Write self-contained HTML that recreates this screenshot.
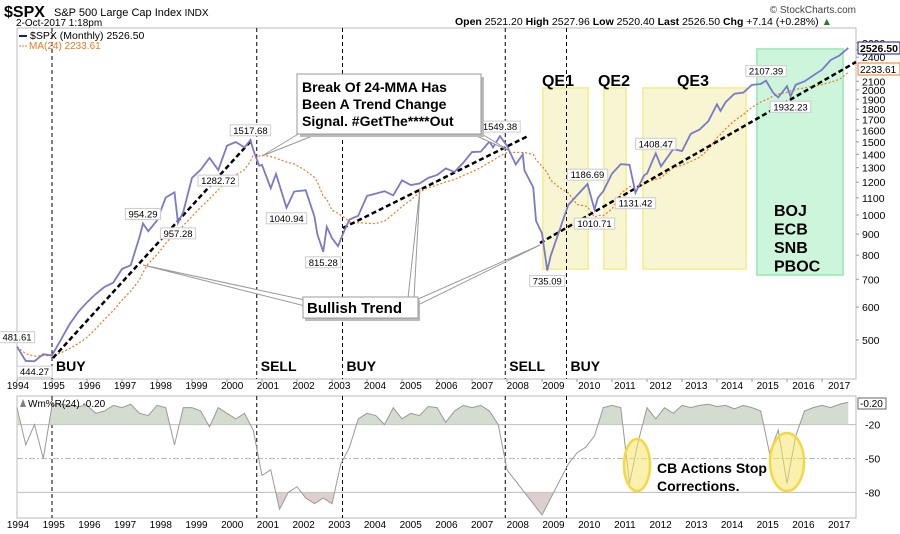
<!DOCTYPE html>
<html><head><meta charset="utf-8"><style>
body{margin:0;background:#fff;width:900px;height:534px;overflow:hidden}
svg{display:block;font-family:"Liberation Sans",sans-serif}
.b{font-weight:bold}
</style></head><body>
<svg id="c" width="900" height="534" xmlns="http://www.w3.org/2000/svg">
<text x="4" y="17" font-size="16" class="b">$SPX</text>
<text x="54" y="16" font-size="11">S&amp;P 500 Large Cap Index <tspan font-size="10">INDX</tspan></text>
<text x="16" y="26" font-size="10">2-Oct-2017 1:18pm</text>
<text x="856" y="13" font-size="10" text-anchor="end" fill="#444">© StockCharts.com</text>
<text x="455" y="25" font-size="10.5"><tspan class="b">Open</tspan> 2521.20 <tspan class="b">High</tspan> 2527.96 <tspan class="b">Low</tspan> 2520.40 <tspan class="b">Last</tspan> 2526.50 <tspan class="b">Chg</tspan> +7.14 (+0.28%) <tspan fill="#2a7a2a">▲</tspan></text>
<g id="g"></g>
</svg>
<script>
const dates=[1994.0,1994.25,1994.5,1994.75,1995.0,1995.25,1995.5,1995.75,1996.0,1996.25,1996.5,1996.75,1997.0,1997.25,1997.5,1997.6,1997.75,1998.0,1998.25,1998.5,1998.6,1998.75,1999.0,1999.25,1999.5,1999.75,2000.0,2000.25,2000.5,2000.67,2000.75,2000.92,2001.0,2001.25,2001.4,2001.7,2001.92,2002.25,2002.5,2002.58,2002.75,2002.85,2003.0,2003.17,2003.35,2003.5,2003.75,2004.0,2004.25,2004.5,2004.75,2005.0,2005.25,2005.5,2005.75,2006.0,2006.25,2006.5,2006.75,2007.0,2007.25,2007.5,2007.6,2007.8,2008.0,2008.25,2008.45,2008.5,2008.75,2008.83,2009.0,2009.15,2009.25,2009.5,2009.75,2010.0,2010.3,2010.5,2010.6,2010.75,2011.0,2011.25,2011.5,2011.67,2011.92,2012.0,2012.25,2012.4,2012.75,2013.0,2013.25,2013.5,2013.75,2014.0,2014.1,2014.25,2014.5,2014.75,2015.0,2015.25,2015.4,2015.6,2015.75,2016.0,2016.1,2016.25,2016.5,2016.75,2017.0,2017.25,2017.5,2017.75];
const closes=[481.6,445,444.3,462,459,500,545,584,616,645,671,687,741,757,885,954,914,970,1102,1134,957,1017,1229,1286,1373,1283,1469,1499,1455,1517,1436,1315,1320,1160,1256,1041,1139,1147,990,900,815,936,880,841,916,975,996,1112,1126,1141,1115,1212,1181,1191,1229,1248,1295,1270,1336,1418,1421,1503,1455,1549,1468,1323,1400,1280,1166,968,903,735,798,919,1057,1115,1187,1031,1101,1141,1258,1326,1321,1131,1247,1258,1408,1310,1441,1426,1569,1606,1682,1848,1782,1872,1960,1972,2059,2068,2107,1972,1920,2044,1932,2060,2099,2168,2239,2363,2423,2526];
const wrDates=[];for(let i=0;i<96;i++)wrDates.push(1994+i*0.25);
const wrValues=[-5,-38,-20,-50,-3,-2,-3,-4,-3,-10,-8,-3,-5,-2,-10,-12,-3,-5,-38,-5,-5,-8,-22,-5,-10,-15,-10,-25,-65,-60,-95,-80,-75,-85,-90,-85,-90,-55,-40,-15,-10,-12,-20,-5,-15,-10,-12,-4,-5,-18,-8,-3,-5,-3,-8,-20,-60,-70,-80,-90,-100,-85,-70,-55,-45,-40,-30,-5,-3,-5,-72,-35,-5,-15,-5,-10,-3,-5,-3,-2,-4,-3,-6,-3,-5,-8,-45,-25,-72,-30,-8,-5,-3,-5,-2,-0.2];
const priceTicks=[500,600,700,800,900,1000,1100,1200,1300,1400,1500,1600,1700,1800,1900,2000,2100,2400,2500,2600];
const yearLabels=['1994','1995','1996','1997','1998','1999','2000','2001','2002','2003','2004','2005','2006','2007','2008','2009','2010','2011','2012','2013','2014','2015','2016','2017'];
const wrTicks=[-20,-50,-80];
const tagLabels=[[1994.0,481.61,1],[1994.5,444.27,0],[1997.6,954.29,1],[1998.6,957.28,0],[1999.75,1282.72,0],[2000.67,1517.68,1],[2001.7,1040.94,0],[2002.75,815.28,0],[2007.8,1549.38,1],[2009.15,735.09,0],[2010.3,1186.69,1],[2010.5,1010.71,0],[2011.67,1131.42,0],[2012.25,1408.47,1],[2015.4,2107.39,1],[2016.1,1932.23,0]];
const signalDates=[1995.0,2000.85,2003.3,2007.95,2009.7];
const signalText=['BUY','SELL','BUY','SELL','BUY'];

const X=d=>17+35*(d-1994);
const Y=v=>215-415*Math.log10(v/1000);
const W=r=>402+(-r)*1.13;
const NS='http://www.w3.org/2000/svg',g=document.getElementById('g');
function el(t,a,txt){const e=document.createElementNS(NS,t);for(const k in a)e.setAttribute(k,a[k]);if(txt!=null)e.textContent=txt;g.appendChild(e);return e;}

let e=el('rect',{x:17,y:28,width:839,height:351,fill:'none',stroke:'#bbb'});


e=el('rect',{x:17,y:396,width:839,height:122,fill:'none',stroke:'#bbb'});



[[543,588,'QE1',558],[604,626,'QE2',614],[643,746,'QE3',693]].forEach(q=>{
 e=el('rect',{x:q[0],y:88,width:q[1]-q[0],height:181,fill:'#f7f5d2',stroke:'#f5f0a0','stroke-width':2});
 
 
 e=el('text',{x:q[3],y:86,'font-size':16,'font-weight':'bold','text-anchor':'middle'},q[2]);
 
 
});
e=el('rect',{x:757,y:49,width:86,height:226,fill:'#cdf5dc',stroke:'#a6eebf','stroke-width':2});


['BOJ','ECB','SNB','PBOC'].forEach((t,i)=>{
 e=el('text',{x:774,y:216+i*18.5,'font-size':16,'font-weight':'bold'},t);
 
 
});

priceTicks.forEach(v=>{
 e=el('text',{x:862,y:Y(v)+4,'font-size':10.5},String(v));
 
 
 el('line',{x1:856,x2:859,y1:Y(v),y2:Y(v),stroke:'#999'});
});
yearLabels.forEach((t,i)=>{
 [389,528].forEach(yy=>{
  e=el('text',{x:18+35.7*i,y:yy,'font-size':10,'text-anchor':'middle'},t);
  
  
 });
 el('line',{x1:X(1994+i),x2:X(1994+i),y1:379,y2:382,stroke:'#999'});
});

signalDates.forEach((d,i)=>{
 e=el('line',{x1:X(d),x2:X(d),y1:28,y2:379,stroke:'#000','stroke-dasharray':'4,3'});
 
 
 el('line',{x1:X(d),x2:X(d),y1:396,y2:518,stroke:'#000','stroke-dasharray':'4,3'});
 e=el('text',{x:X(d)+4,y:371,'font-size':14,'font-weight':'bold'},signalText[i]);
 
 
});

const ma=closes.map((c,i)=>{let s=0,n=0;for(let j=0;j<=i;j++)if(dates[j]>dates[i]-2){s+=closes[j];n++;}return s/n;});
e=el('polyline',{points:dates.map((d,i)=>X(d)+','+Y(ma[i])).join(' '),fill:'none',stroke:'#f07820','stroke-width':1.2,'stroke-dasharray':'2,2'});



[[53,358,250,142],[343,228,528,136],[540,243,856,62]].forEach(t=>{
 e=el('line',{x1:t[0],y1:t[1],x2:t[2],y2:t[3],stroke:'#000','stroke-width':2.5,'stroke-dasharray':'5,3'});
 
 
});

e=el('polyline',{points:dates.map((d,i)=>X(d)+','+Y(closes[i])).join(' '),fill:'none',stroke:'#7a7ac8','stroke-width':1.8});



tagLabels.forEach(t=>{
 const px=X(t[0]),py=Y(t[1]),txt=t[1].toFixed(2),w=txt.length*5.2+4;
 const ty=t[2]?py-15:py+5;
 const r=el('rect',{x:px-w/2,y:ty,width:w,height:11,fill:'#fff',stroke:'#ccc'});
 
 
 el('text',{x:px,y:ty+9,'font-size':9.5,'text-anchor':'middle'},txt);
});

e=el('polygon',{points:'300,133 262,156 320,133',fill:'#fff',stroke:'#999'});


e=el('polygon',{points:'470,133 510,151 480,133',fill:'#fff',stroke:'#999'});


el('rect',{x:300,y:77,width:184,height:60,fill:'#bbb'});
e=el('rect',{x:297,y:74,width:184,height:60,fill:'#fff',stroke:'#999'});


['Break Of 24-MMA Has','Been A Trend Change','Signal. #GetThe****Out'].forEach((t,i)=>{
 e=el('text',{x:302,y:92+i*17,'font-size':14,'font-weight':'bold'},t);
 
 
});
[['305,300 143,265 305,306'],['408,298 420,188 414,298'],['416,300 540,245 416,306']].forEach(p=>{
 e=el('polygon',{points:p[0],fill:'#fff',stroke:'#999'});
 
 
});
el('rect',{x:305,y:300,width:115,height:21,fill:'#bbb'});
e=el('rect',{x:303,y:297,width:115,height:21,fill:'#fff',stroke:'#999'});


e=el('text',{x:307,y:313,'font-size':15,'font-weight':'bold'},'Bullish Trend');



el('line',{x1:19,x2:27,y1:36,y2:36,stroke:'#1a1a80','stroke-width':2});
e=el('text',{x:30,y:39,'font-size':10.5},'$SPX (Monthly) 2526.50');


el('line',{x1:19,x2:27,y1:46,y2:46,stroke:'#f07820','stroke-dasharray':'2,1'});
e=el('text',{x:29,y:49,'font-size':10,fill:'#f07820'},'MA(24) 2233.61');



e=el('rect',{x:858,y:42,width:42,height:12,fill:'#fff',stroke:'#1a1a80'});


el('text',{x:860,y:52,'font-size':10.5,'font-weight':'bold'},'2526.50');
e=el('rect',{x:858,y:63,width:42,height:12,fill:'#fff',stroke:'#f07820'});


el('text',{x:860,y:73,'font-size':10},'2233.61');

const yb=W(-20),yr=W(-80);
el('line',{x1:17,x2:856,y1:yb,y2:yb,stroke:'#bbb'});
el('line',{x1:17,x2:856,y1:yr,y2:yr,stroke:'#bbb'});
el('line',{x1:17,x2:856,y1:W(-50),y2:W(-50),stroke:'#bbb','stroke-dasharray':'6,2,2,2'});
const defs=el('defs',{});
const c1=document.createElementNS(NS,'clipPath');c1.id='top';c1.innerHTML='<rect x="0" y="0" width="900" height="'+yb+'"/>';defs.appendChild(c1);
const c2=document.createElementNS(NS,'clipPath');c2.id='bot';c2.innerHTML='<rect x="0" y="'+yr+'" width="900" height="100"/>';defs.appendChild(c2);
const pts=wrDates.map((d,i)=>X(d)+','+W(wrValues[i])).join(' ');
const x0=X(wrDates[0]),x1=X(wrDates[wrDates.length-1]);
e=el('polygon',{points:x0+','+yb+' '+pts+' '+x1+','+yb,fill:'#d3dccf','clip-path':'url(#top)'});


e=el('polygon',{points:x0+','+yr+' '+pts+' '+x1+','+yr,fill:'#ddcfcf','clip-path':'url(#bot)'});


e=el('polyline',{points:pts,fill:'none',stroke:'#999','stroke-width':1});


wrTicks.forEach(v=>{
 e=el('text',{x:865,y:W(v)+4,'font-size':10.5},String(v));
 
 
});
e=el('rect',{x:858,y:398,width:28,height:11,fill:'#fff',stroke:'#666'});


el('text',{x:860,y:407,'font-size':10},'-0.20');
el('polygon',{points:'20,407 23,399 26,407',fill:'#6c8a6c'});
e=el('text',{x:28,y:407,'font-size':10},'Wm%R(24) -0.20');


[[637,465,13,26],[787,462,17,29]].forEach(o=>{
 e=el('ellipse',{cx:o[0],cy:o[1],rx:o[2],ry:o[3],fill:'rgba(245,230,110,0.55)',stroke:'#f5d840','stroke-width':2.5});
 
 
});
['CB Actions Stop','Corrections.'].forEach((t,i)=>{
 e=el('text',{x:657,y:473+i*18,'font-size':14,'font-weight':'bold'},t);
 
 
});
</script>
</body></html>
